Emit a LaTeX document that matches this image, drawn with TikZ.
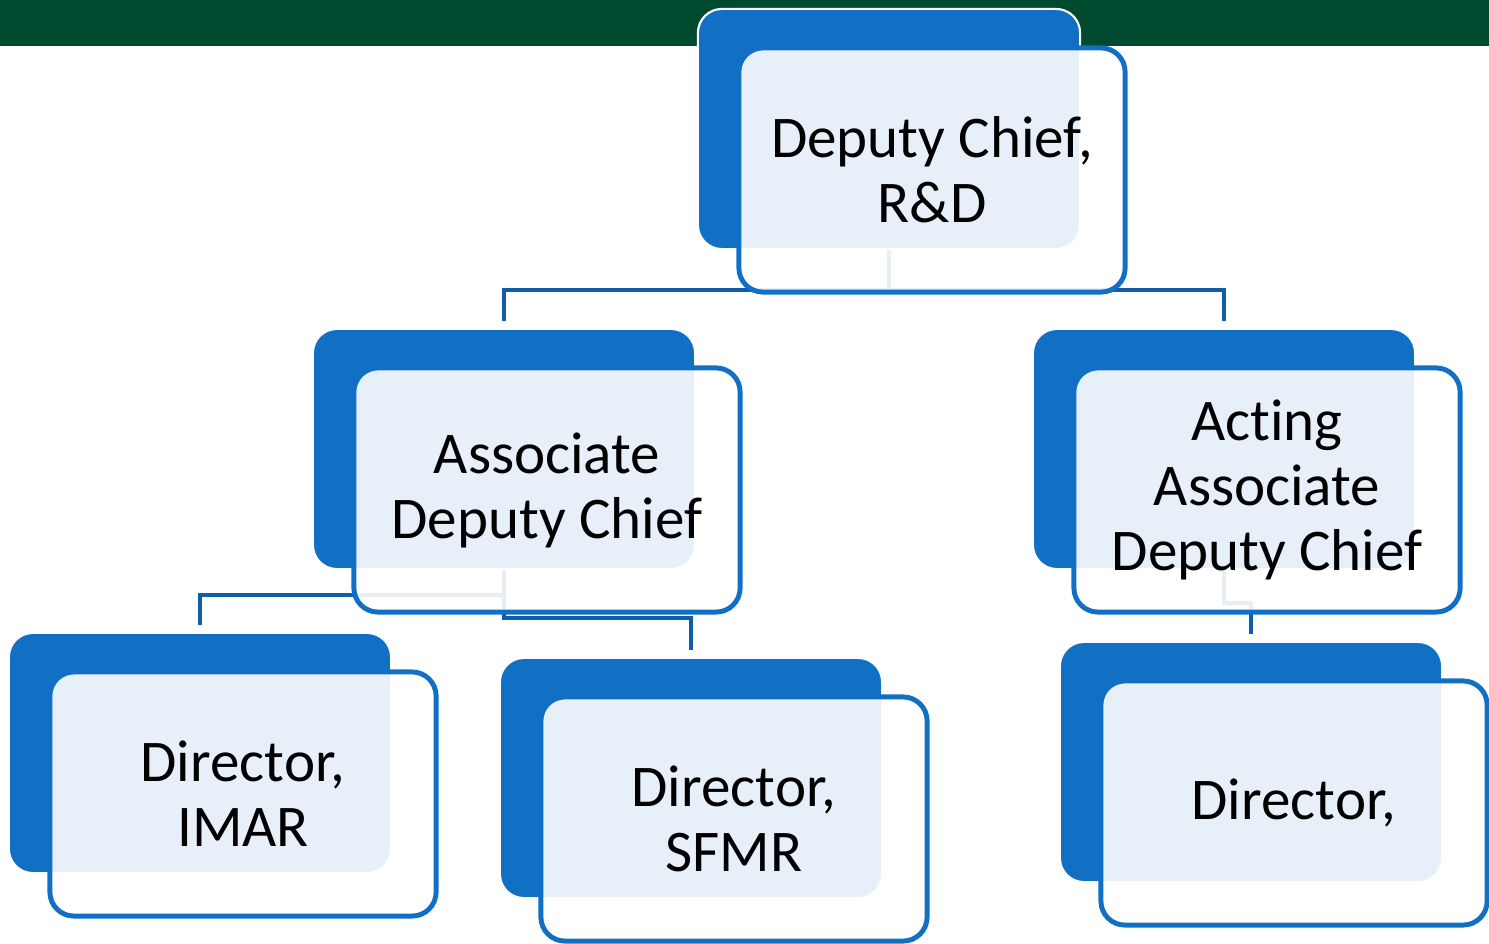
\documentclass[tikz,border=0pt]{standalone}
\usepackage{fontspec}
\setmainfont{Carlito}[Ligatures=NoCommon]
\usetikzlibrary{positioning}
\definecolor{barGreen}{RGB}{0,75,47}
\definecolor{boxBlue}{RGB}{17,112,196}
\definecolor{lineBlue}{RGB}{16,94,168}
\tikzset{
  backbox/.style={rectangle, rounded corners=0.24cm, fill=boxBlue, draw=white, line width=0.6pt, minimum width=3.82cm, minimum height=2.40cm},
  frontbox/.style={rectangle, rounded corners=0.24cm, draw=boxBlue, line width=1.4pt, fill=white, fill opacity=0.9, text opacity=1, minimum width=3.86cm, minimum height=2.44cm, inner sep=0pt, align=center, font=\fontsize{16.8}{18.5}\selectfont},
  conn/.style={draw=lineBlue, line width=1.3pt, shorten >=2pt}
}
\begin{document}
\begin{tikzpicture}[x=0.01cm,y=-0.01cm]
    \useasboundingbox (0,0) rectangle (1489,943);
    \fill[barGreen] (0,0) rectangle (1489,46);
    % back boxes
    \node[backbox] (dcB) at (889,129) {};
    \node[backbox] (adcB) at (504,449) {};
    \node[backbox] (aadcB) at (1224,449) {};
    \node[backbox] (imarB) at (200,753) {};
    \node[backbox] (sfmrB) at (691,778) {};
    \node[backbox] (dirB) at (1251,762) {};
    % connectors
    \draw[conn] (dcB.south) -- ++(0,40) -| (adcB.north);
    \draw[conn] (dcB.south) -- ++(0,40) -| (aadcB.north);
    \draw[conn] (adcB.south) -- ++(0,25) -| (imarB.north);
    \draw[conn] (adcB.south) -- ++(0,48) -| (sfmrB.north);
    \draw[conn] (aadcB.south) -- ++(0,33) -| (dirB.north);
    % front boxes
    \node[frontbox] (dc) at ([shift={(43,41)}]dcB.center) {Deputy Chief,\\R\&D};
    \node[frontbox] (adc) at ([shift={(43,41)}]adcB.center) {Associate\\Deputy Chief};
    \node[frontbox] (aadc) at ([shift={(43,41)}]aadcB.center) {Acting\\Associate\\Deputy Chief};
    \node[frontbox] (imar) at ([shift={(43,41)}]imarB.center) {Director,\\IMAR};
    \node[frontbox] (sfmr) at ([shift={(43,41)}]sfmrB.center) {Director,\\SFMR};
    \node[frontbox] (dir) at ([shift={(43,41)}]dirB.center) {Director,};
\end{tikzpicture}
\end{document}
